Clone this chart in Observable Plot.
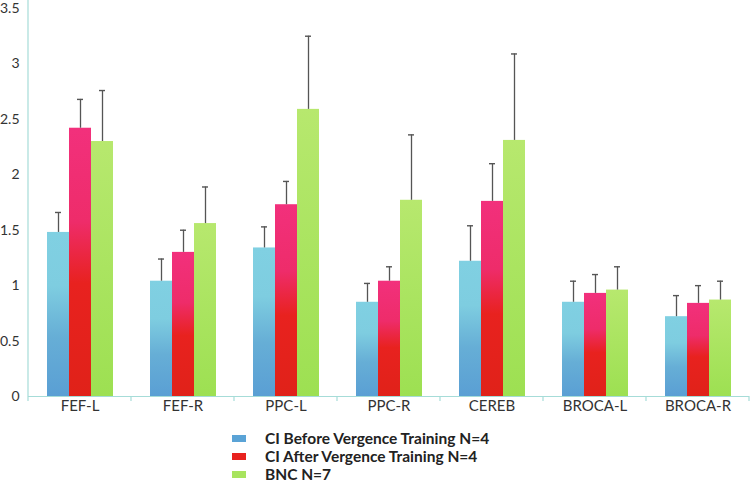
<!DOCTYPE html>
<html><head><meta charset="utf-8">
<script src="https://cdn.jsdelivr.net/npm/d3@7"></script>
<script src="https://cdn.jsdelivr.net/npm/@observablehq/plot@0.6"></script>
<style>
body{margin:0;background:#fff;font-family:Lato,sans-serif;}
#wrap{position:relative;width:750px;height:482px;}
#legend{position:absolute;left:232px;top:429px;}
.row{display:flex;align-items:center;height:18px;font-weight:bold;font-size:15.5px;color:#222;white-space:nowrap;}
.sw{width:14px;height:7px;margin-right:19px;}
</style></head><body>
<svg width="0" height="0" style="position:absolute">
<defs>
<linearGradient id="grad0" x1="0" y1="0" x2="0" y2="1">
<stop offset="0" stop-color="#80d0e2"/><stop offset="0.33" stop-color="#7ecde0"/>
<stop offset="0.64" stop-color="#66aed6"/><stop offset="1" stop-color="#5a9fd4"/>
</linearGradient>
<linearGradient id="grad1" x1="0" y1="0" x2="0" y2="1">
<stop offset="0" stop-color="#f2307c"/><stop offset="0.35" stop-color="#ee2c6a"/>
<stop offset="0.58" stop-color="#e8221f"/><stop offset="1" stop-color="#e02219"/>
</linearGradient>
<linearGradient id="grad2" x1="0" y1="0" x2="0" y2="1">
<stop offset="0" stop-color="#b7e86e"/><stop offset="1" stop-color="#9de052"/>
</linearGradient>
</defs></svg>
<div id="wrap"><div id="chart"></div><div id="legend"></div></div>
<script>
const regions = ["FEF-L","FEF-R","PPC-L","PPC-R","CEREB","BROCA-L","BROCA-R"];
const seriesNames = ["CI Before Vergence Training N=4","CI After Vergence Training N=4","BNC N=7"];
const beforeVals = [1.48,1.04,1.34,0.85,1.22,0.85,0.72];
const beforeErr  = [0.18,0.20,0.19,0.17,0.32,0.19,0.19];
const afterVals  = [2.42,1.30,1.73,1.04,1.76,0.93,0.84];
const afterErr   = [0.26,0.20,0.21,0.13,0.34,0.17,0.16];
const bncVals    = [2.30,1.56,2.59,1.77,2.31,0.96,0.87];
const bncErr     = [0.46,0.33,0.66,0.59,0.78,0.21,0.17];
const yTicks = [0,0.5,1,1.5,2,2.5,3,3.5];
const legendColors = ["#5aa3d6","#e8221f","#a8e45e"];

const vals = [beforeVals, afterVals, bncVals];
const errs = [beforeErr, afterErr, bncErr];
const data = [];
regions.forEach((r, i) => {
  seriesNames.forEach((s, k) => {
    data.push({region: r, series: s, k, value: vals[k][i], err: errs[k][i]});
  });
});

const axisColor = "#a6dcd8";
const errColor = "#555";

const plot = Plot.plot({
  width: 750, height: 425,
  marginTop: 8, marginBottom: 29, marginLeft: 28, marginRight: 1,
  style: {fontFamily: "Lato, sans-serif", fontSize: "15px", color: "#333", background: "white"},
  fx: {domain: regions, padding: 0, label: null, tickSize: 0, tickPadding: 4},
  x: {domain: seriesNames, paddingInner: 0, paddingOuter: 0.77, axis: null},
  y: {axis: null, domain: [0, 3.5]},
  marks: [
    Plot.axisY(yTicks, {tickFormat: d => String(d), tickSize: 0, tickPadding: 9, fontSize: 14, label: null}),
    ...seriesNames.map((s, k) => Plot.barY(data.filter(d => d.k === k), {
      fx: "region", x: "series", y: "value", fill: `url(#grad${k})`
    })),
    Plot.ruleX(data, {fx: "region", x: "series", y1: "value", y2: d => d.value + d.err, stroke: errColor, strokeWidth: 1.3}),
    Plot.tickY(data, {fx: "region", x: "series", y: d => d.value + d.err, stroke: errColor, strokeWidth: 1.4, insetLeft: 8, insetRight: 8}),
    Plot.ruleY([0], {stroke: axisColor, strokeWidth: 1.2})
  ]
});
document.getElementById("chart").appendChild(plot);

// y axis line and category boundary ticks, from the plot's own scales
const yd = plot.scale("y"), fxd = plot.scale("fx");
const yS = d3.scaleLinear().domain(yd.domain).range(yd.range);
const fxS = d3.scaleBand().domain(fxd.domain).range(fxd.range)
  .paddingInner(fxd.paddingInner ?? 0).paddingOuter(fxd.paddingOuter ?? 0);
const svg = d3.select(plot);
const g = svg.append("g").attr("stroke", axisColor).attr("stroke-width", 1.2);
const x0 = fxS(regions[0]);
g.append("line").attr("x1", x0).attr("x2", x0).attr("y1", yS(0)).attr("y2", 0);
const bounds = regions.map(r => fxS(r)).concat([fxS(regions[regions.length - 1]) + fxS.bandwidth()]);
bounds.forEach(b => {
  g.append("line").attr("x1", b).attr("x2", b).attr("y1", yS(0)).attr("y2", yS(0) + 5);
});

// legend
const leg = d3.select("#legend");
seriesNames.forEach((s, k) => {
  const row = leg.append("div").attr("class", "row");
  row.append("div").attr("class", "sw").style("background", legendColors[k]);
  row.append("span").text(s);
});
</script>
</body></html>
